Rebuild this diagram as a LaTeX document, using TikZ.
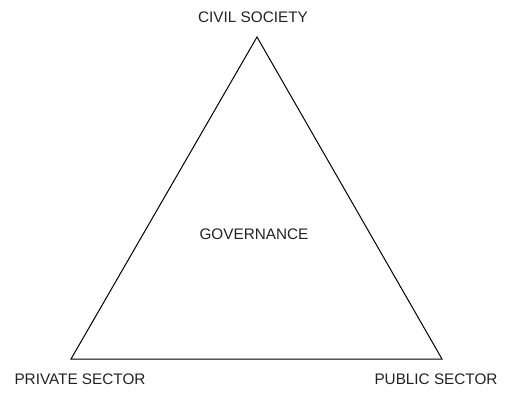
\documentclass[tikz,border=0pt]{standalone}
\usepackage{fontspec}
\setmainfont{Liberation Sans}
\usepackage{tikz}
\usepackage{xcolor}
\definecolor{textgray}{RGB}{34,34,34}

\begin{document}
\begin{tikzpicture}[x=1pt, y=-1pt,
    sector/.style={font=\fontsize{15.3}{18}\selectfont, text=textgray, anchor=base, inner sep=0pt}]
            \useasboundingbox (0,0) rectangle (511,396);

            % Corners
            \coordinate (top) at (257,37);
            \coordinate (left) at (71,359);
            \coordinate (right) at (442,359);

            % Triangle
            \draw[line width=1pt] (top) -- (left) -- (right) -- cycle;

            % Labels
            \node[sector] (civil) at (253,23) {CIVIL SOCIETY};
            \node[sector] (gov) at (254,239) {GOVERNANCE};
            \node[sector] (private) at (80,384) {PRIVATE SECTOR};
            \node[sector] (public) at (436,384) {PUBLIC SECTOR};
        \end{tikzpicture}
\end{document}
